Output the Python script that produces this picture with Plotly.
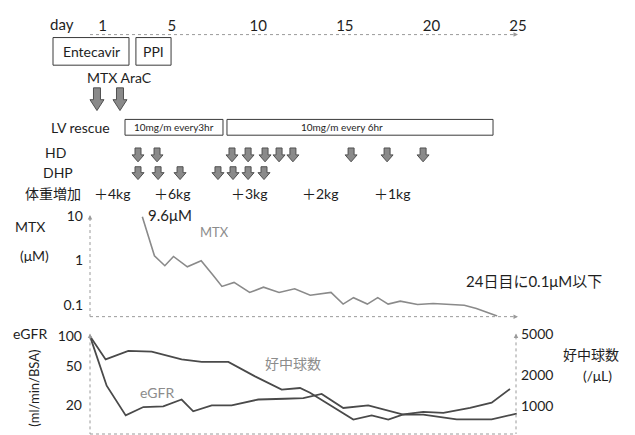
import math
import plotly.graph_objects as go

# ---------------- data ----------------
day_ticks = [1, 5, 10, 15, 20, 25]

drug_names = ["Entecavir", "PPI"]
drug_start = [-1.86, 2.93]
drug_end = [2.53, 4.96]

chemo_days = [0.68, 2.01]
chemo_label = "MTX AraC"

lv_text = ["10mg/m every3hr", "10mg/m every 6hr"]
lv_start = [2.30, 8.19]
lv_end = [7.96, 23.56]

hd_days = [3.05, 4.15, 8.48, 9.41, 10.39, 11.20, 12.0, 15.36, 17.44, 19.52]
dhp_days = [3.05, 4.21, 5.48, 7.67, 8.54, 9.41, 10.33]

weight_days = [1.55, 5.07, 9.52, 13.57, 17.78]
weight_labels = ["＋4kg", "＋6kg", "＋3kg", "＋2kg", "＋1kg"]

mtx_days = [3.3, 4.0, 4.6, 5.1, 5.9, 6.7, 7.4, 7.9, 8.6, 9.5, 10.3, 11.2, 12.1,
            13.0, 14.2, 14.9, 15.5, 16.3, 16.9, 17.5, 18.2, 19.2, 20.1, 21.9, 22.6, 23.8]
mtx_um = [9.6, 1.27, 0.76, 1.23, 0.72, 0.98, 0.46, 0.26, 0.32, 0.19, 0.25, 0.19, 0.23,
          0.164, 0.19, 0.104, 0.145, 0.104, 0.145, 0.104, 0.121, 0.102, 0.107, 0.098, 0.083, 0.056]
mtx_ticks = [0.1, 1, 10]

egfr_days = [0.28, 1.24, 2.34, 3.36, 4.51, 5.57, 6.24, 7.31, 8.46, 10.0, 11.54, 12.60,
             13.66, 14.91, 16.35, 18.38, 19.53, 21.46, 23.48, 24.93]
egfr_vals = [100, 31.6, 15.8, 19.2, 19.5, 22.9, 17.4, 20, 20, 22.9, 23.3, 23.6,
             26.1, 18.8, 20, 16.1, 16.1, 14.4, 14.4, 16.5]
egfr_ticks = [20, 50, 100]

neut_days = [0.28, 1.18, 2.49, 3.84, 5.57, 6.73, 8.27, 9.81, 11.35, 12.41, 12.99, 15.49,
             16.55, 17.51, 18.38, 19.53, 20.69, 22.23, 23.48, 24.54]
neut_vals = [4800, 2850, 3450, 3400, 2850, 2700, 2700, 1950, 1450, 1500, 1350, 740,
             810, 740, 830, 880, 860, 960, 1080, 1470]
neut_ticks = [1000, 2000, 5000]

# ---------------- layout helpers ----------------
W, H = 635, 435
X0, PXD = 85.2, 17.31          # pixel of day 0, pixels per day
FONT = "Lato, 'Noto Sans CJK JP', sans-serif"
TXT = "#1e1e1e"
GREY = "#8c8c8c"
AX = "#9a9a9a"


def px2day(px):
    return (px - X0) / PXD


def ppx(px):
    return px / W


def ppy(py):
    return 1 - py / H


fig = go.Figure()

fig.add_trace(go.Scatter(x=mtx_days, y=mtx_um, mode="lines", yaxis="y",
                         line=dict(color="#8a8a8a", width=1.6), showlegend=False))
fig.add_trace(go.Scatter(x=egfr_days, y=egfr_vals, mode="lines", yaxis="y2",
                         line=dict(color="#4a4a4a", width=1.8), showlegend=False))
fig.add_trace(go.Scatter(x=neut_days, y=neut_vals, mode="lines", yaxis="y3",
                         line=dict(color="#4a4a4a", width=1.8), showlegend=False))

shapes = []
ann = []


def text(t, x, y, size=14, color=TXT, xref="paper", xanchor="center", **kw):
    ann.append(dict(text=t, x=x, y=y, xref=xref, yref="paper", showarrow=False,
                    xanchor=xanchor, yanchor="middle",
                    font=dict(size=size, color=color, family=FONT), **kw))


def dotted(x0, y0, x1, y1):
    shapes.append(dict(type="line", xref="paper", yref="paper",
                       x0=ppx(x0), y0=ppy(y0), x1=ppx(x1), y1=ppy(y1),
                       line=dict(color=AX, width=1, dash="dot")))


def axis_head(x, y, ax, ay):
    ann.append(dict(text="", x=ppx(x), y=ppy(y), xref="paper", yref="paper",
                    showarrow=True, ax=ax, ay=ay, arrowhead=2, arrowsize=0.9,
                    arrowwidth=1, arrowcolor=AX))


def box(d0, d1, top, bottom):
    shapes.append(dict(type="rect", xref="x", yref="paper", x0=d0, x1=d1,
                       y0=ppy(bottom), y1=ppy(top),
                       line=dict(color="#3a3a3a", width=1), fillcolor="rgba(0,0,0,0)"))


def arrow(day, top, neck, bottom, shaft_px, head_px):
    ws, wh = shaft_px / PXD, head_px / PXD
    yt, yn, yb = ppy(top), ppy(neck), ppy(bottom)
    pts = [(day - ws, yt), (day + ws, yt), (day + ws, yn), (day + wh, yn),
           (day, yb), (day - wh, yn), (day - ws, yn)]
    path = "M " + " L ".join(f"{x:.4f},{y:.4f}" for x, y in pts) + " Z"
    shapes.append(dict(type="path", xref="x", yref="paper", path=path,
                       fillcolor="#8a8a8a", line=dict(color="#505050", width=1)))


# day axis line
dotted(90, 29, 515, 29)
axis_head(518, 29, -6, 0)
text("day", ppx(62), ppy(18), size=15)

# drug boxes
for n, s, e in zip(drug_names, drug_start, drug_end):
    box(s, e, 32, 60)
    text(n, (s + e) / 2, ppy(46), xref="x")

# chemo arrows
text(chemo_label, chemo_days[0], ppy(72), xref="x", xanchor="left", xshift=-12)
for d in chemo_days:
    arrow(d, 83, 95, 106, 3.5, 7)

# LV rescue
text("LV rescue", ppx(80), ppy(123))
lv_shift = [0, -18]
for t, s, e, sh in zip(lv_text, lv_start, lv_end, lv_shift):
    box(s, e, 115, 131)
    text(t, (s + e) / 2, ppy(123), size=10, xref="x", xshift=sh)

# HD / DHP
text("HD", ppx(55), ppy(149))
text("DHP", ppx(58), ppy(169))
for d in hd_days:
    arrow(d, 144, 151, 158, 3, 6)
for d in dhp_days:
    arrow(d, 163, 169, 176, 3, 6)

# weight gain
text("体重増加", ppx(53), ppy(190))
for d, t in zip(weight_days, weight_labels):
    text(t, d, ppy(190), xref="x")

# MTX panel
dotted(90, 215, 90, 315)
dotted(90, 315, 515, 315)
axis_head(90, 212, 0, 6)
axis_head(518, 315, -6, 0)
text("MTX", ppx(30), ppy(224))
text("(μM)", ppx(34), ppy(253))
text("9.6μM", ppx(170), ppy(212), size=15)
text("MTX", ppx(214), ppy(229), size=13, color=GREY)
text("24日目に0.1μM以下", ppx(534), ppy(279), size=15)

# eGFR / neutrophil panel
dotted(90, 335, 90, 434)
dotted(516, 335, 516, 434)
dotted(90, 434, 516, 434)
axis_head(90, 332, 0, 6)
axis_head(516, 332, 0, 6)
text("eGFR", ppx(30), ppy(332))
text("(ml/min/BSA)", ppx(34), ppy(388), size=13, textangle=-90)
text("eGFR", ppx(157), ppy(392), size=14, color=GREY)
text("好中球数", ppx(293), ppy(363), size=14, color=GREY)
text("好中球数", ppx(591), ppy(353), size=14)
text("(/μL)", ppx(597), ppy(375), size=14)

tickfont = dict(size=14, color=TXT, family=FONT)

fig.update_layout(
    width=W, height=H, margin=dict(l=0, r=0, t=0, b=0),
    paper_bgcolor="white", plot_bgcolor="rgba(0,0,0,0)",
    showlegend=False, shapes=shapes, annotations=ann,
    xaxis=dict(domain=[0, 1], range=[px2day(0), px2day(W)], anchor="free",
               position=ppy(29), side="top", tickvals=day_ticks,
               ticktext=[str(t) for t in day_ticks], ticks="", showgrid=False,
               zeroline=False, showline=False, tickfont=dict(size=15, color=TXT, family=FONT),
               ticklabelstandoff=1),
    yaxis=dict(type="log", domain=[ppy(315), ppy(210)],
               range=[1 - (315 - 213) / 45, 1 - (210 - 213) / 45],
               anchor="free", position=ppx(90), tickvals=mtx_ticks,
               ticktext=[f"{t:g}" for t in mtx_ticks], ticks="", showgrid=False,
               zeroline=False, showline=False, tickfont=tickfont, ticklabelstandoff=7),
    yaxis2=dict(type="log", domain=[ppy(434), ppy(330)],
                range=[2 - (434 - 335) / 100, 2 - (330 - 335) / 100],
                anchor="free", position=ppx(90), tickvals=egfr_ticks,
                ticktext=[str(t) for t in egfr_ticks], ticks="", showgrid=False,
                zeroline=False, showline=False, tickfont=tickfont, ticklabelstandoff=8),
    yaxis3=dict(type="log", overlaying="y2", side="right",
                range=[math.log10(5000) - (434 - 333) / 104, math.log10(5000) + 3 / 104],
                anchor="free", position=ppx(516), tickvals=neut_ticks,
                ticktext=[str(t) for t in neut_ticks], ticks="", showgrid=False,
                zeroline=False, showline=False, tickfont=tickfont, ticklabelstandoff=4),
)

fig.write_html("out.html", config={"displayModeBar": False},
               post_script="document.body.style.margin='0';document.body.style.overflow='hidden';")
